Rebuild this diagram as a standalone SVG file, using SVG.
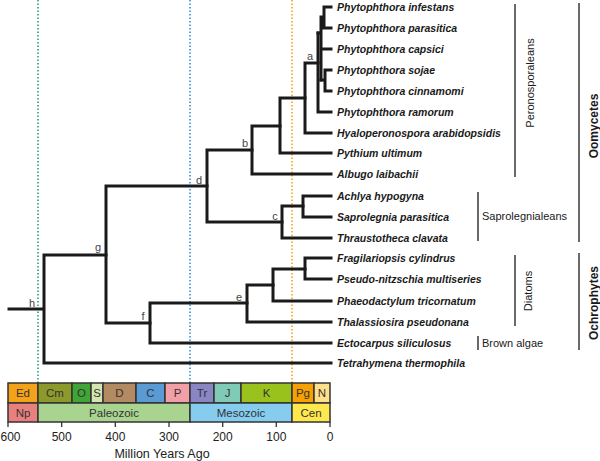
<svg xmlns="http://www.w3.org/2000/svg" width="600" height="461" viewBox="0 0 600 461">
<style>
text{font-family:"Liberation Sans",Arial,sans-serif;fill:#1a1a1a}
.sp{font-size:10.5px;font-weight:bold;font-style:italic}
.nl{font-size:11px;fill:#444;text-anchor:middle}
.cl{font-size:11px}
.big{font-size:12px;font-weight:bold;text-anchor:middle}
.br{stroke:#1a1a1a;stroke-width:3;fill:none;stroke-linecap:square;stroke-linejoin:miter}
.bk{stroke:#1a1a1a;stroke-width:1.3;fill:none}
.dot{stroke-width:1.5;stroke-dasharray:1.5 2;fill:none}
.ts rect{stroke:#333;stroke-width:1.5}
.ts text{font-size:11.5px;fill:#333;text-anchor:middle}
.ax{font-size:12px;text-anchor:middle;fill:#222}
</style>
<rect width="600" height="461" fill="#fff"/>
<g id="epoch-lines">
<line class="dot" x1="38" y1="0" x2="38" y2="383" stroke="#1e9a6a"/>
<line class="dot" x1="190" y1="0" x2="190" y2="383" stroke="#2a8ad8"/>
<line class="dot" x1="292" y1="0" x2="292" y2="383" stroke="#f5a000"/>
</g>
<g id="connectors">
<path class="br" d="M106 255 H44 V363 H331 M9 309 H44"/>
<path class="br" d="M207 186 H106 V323 H150"/>
<path class="br" d="M252 150 H207 V222 H282"/>
<path class="br" d="M280 126 H252 V174 H331"/>
<path class="br" d="M305 98 H280 V153 H331"/>
<path class="br" d="M318 63 H305 V133 H331"/>
<path class="br" d="M318 33 V112 H331"/>
<path class="br" d="M318 33 H321 M321 17 V80 M321 49 H331 M321 17 H324 M324 7 V28 M324 7 H331 M324 28 H331"/>
<path class="br" d="M321 80 H325 M325 70 V91 M325 70 H331 M325 91 H331"/>
<path class="br" d="M303 206 H282 V238 H331"/>
<path class="br" d="M331 196 H303 V217 H331"/>
<path class="br" d="M247 303 H150 V343 H331"/>
<path class="br" d="M273 285 H247 V322 H331"/>
<path class="br" d="M305 269 H273 V301 H331"/>
<path class="br" d="M331 258 H305 V279 H331"/>
</g>
<g id="node-labels">
<text class="nl" x="310" y="60">a</text>
<text class="nl" x="245" y="147">b</text>
<text class="nl" x="275" y="220">c</text>
<text class="nl" x="199" y="184">d</text>
<text class="nl" x="239" y="301">e</text>
<text class="nl" x="143" y="320">f</text>
<text class="nl" x="98" y="251">g</text>
<text class="nl" x="32" y="307">h</text>
</g>
<g id="taxa">
<text class="sp" x="337" y="11">Phytophthora infestans</text>
<text class="sp" x="337" y="32">Phytophthora parasitica</text>
<text class="sp" x="337" y="53">Phytophthora capsici</text>
<text class="sp" x="337" y="74">Phytophthora sojae</text>
<text class="sp" x="337" y="95">Phytophthora cinnamomi</text>
<text class="sp" x="337" y="116">Phytophthora ramorum</text>
<text class="sp" x="337" y="137">Hyaloperonospora arabidopsidis</text>
<text class="sp" x="337" y="157">Pythium ultimum</text>
<text class="sp" x="337" y="178">Albugo laibachii</text>
<text class="sp" x="337" y="200">Achlya hypogyna</text>
<text class="sp" x="337" y="221">Saprolegnia parasitica</text>
<text class="sp" x="337" y="242">Thraustotheca clavata</text>
<text class="sp" x="337" y="262">Fragilariopsis cylindrus</text>
<text class="sp" x="337" y="283">Pseudo-nitzschia multiseries</text>
<text class="sp" x="337" y="305">Phaeodactylum tricornatum</text>
<text class="sp" x="337" y="326">Thalassiosira pseudonana</text>
<text class="sp" x="337" y="347">Ectocarpus siliculosus</text>
<text class="sp" x="337" y="367">Tetrahymena thermophila</text>
</g>
<g id="clade-peronosporaleans">
<line class="bk" x1="515" y1="4" x2="515" y2="177"/>
<text class="cl" text-anchor="middle" transform="translate(534,83) rotate(-90)">Peronosporaleans</text>
</g>
<g id="clade-saprolegnialeans">
<line class="bk" x1="478" y1="192" x2="478" y2="241"/>
<text class="cl" x="482" y="220">Saprolegnialeans</text>
</g>
<g id="clade-diatoms">
<line class="bk" x1="515" y1="255" x2="515" y2="326"/>
<text class="cl" text-anchor="middle" transform="translate(532,291) rotate(-90)">Diatoms</text>
</g>
<g id="clade-brown-algae">
<line class="bk" x1="478" y1="336" x2="478" y2="350"/>
<text class="cl" x="482" y="347">Brown algae</text>
</g>
<g id="clade-oomycetes">
<line class="bk" x1="579" y1="3" x2="579" y2="242"/>
<text class="big" transform="translate(598,126) rotate(-90)">Oomycetes</text>
</g>
<g id="clade-ochrophytes">
<line class="bk" x1="579" y1="253" x2="579" y2="350"/>
<text class="big" transform="translate(598,303) rotate(-90)">Ochrophytes</text>
</g>
<g id="timescale" class="ts">
<rect x="8" y="383" width="30" height="20" fill="#f5a21b"/>
<rect x="38" y="383" width="34" height="20" fill="#8c9a2c"/>
<rect x="72" y="383" width="19" height="20" fill="#3fa535"/>
<rect x="91" y="383" width="12" height="20" fill="#d5e5b0"/>
<rect x="103" y="383" width="33" height="20" fill="#b48a62"/>
<rect x="136" y="383" width="29" height="20" fill="#5b9bd5"/>
<rect x="165" y="383" width="25" height="20" fill="#f2a0a8"/>
<rect x="190" y="383" width="24" height="20" fill="#8a86c4"/>
<rect x="214" y="383" width="27" height="20" fill="#7fcbb5"/>
<rect x="241" y="383" width="51" height="20" fill="#9ac21c"/>
<rect x="292" y="383" width="22" height="20" fill="#f7a100"/>
<rect x="314" y="383" width="16" height="20" fill="#ffe08a"/>
<rect x="8" y="403" width="30" height="19" fill="#e8807e"/>
<rect x="38" y="403" width="152" height="19" fill="#a8d48f"/>
<rect x="190" y="403" width="102" height="19" fill="#86ccee"/>
<rect x="292" y="403" width="38" height="19" fill="#ffe84d"/>
<text x="23" y="397">Ed</text>
<text x="55" y="397">Cm</text>
<text x="81.5" y="397">O</text>
<text x="97" y="397">S</text>
<text x="119.5" y="397">D</text>
<text x="150.5" y="397">C</text>
<text x="177.5" y="397">P</text>
<text x="202" y="397">Tr</text>
<text x="227.5" y="397">J</text>
<text x="266.5" y="397">K</text>
<text x="303" y="397">Pg</text>
<text x="322" y="397">N</text>
<text x="23" y="416.5">Np</text>
<text x="114" y="416.5">Paleozoic</text>
<text x="241" y="416.5">Mesozoic</text>
<text x="311" y="416.5">Cen</text>
</g>
<g id="axis">
<path d="M8 422 V427 M61.7 422 V427 M115.3 422 V427 M169 422 V427 M222.7 422 V427 M276.3 422 V427 M330 422 V427" stroke="#333" stroke-width="1.3"/>
<text class="ax" x="10.5" y="441">600</text>
<text class="ax" x="61.7" y="441">500</text>
<text class="ax" x="115.3" y="441">400</text>
<text class="ax" x="169" y="441">300</text>
<text class="ax" x="222.7" y="441">200</text>
<text class="ax" x="276.3" y="441">100</text>
<text class="ax" x="330" y="441">0</text>
<text class="ax" x="162" y="458" style="font-size:12.5px">Million Years Ago</text>
</g>
</svg>
